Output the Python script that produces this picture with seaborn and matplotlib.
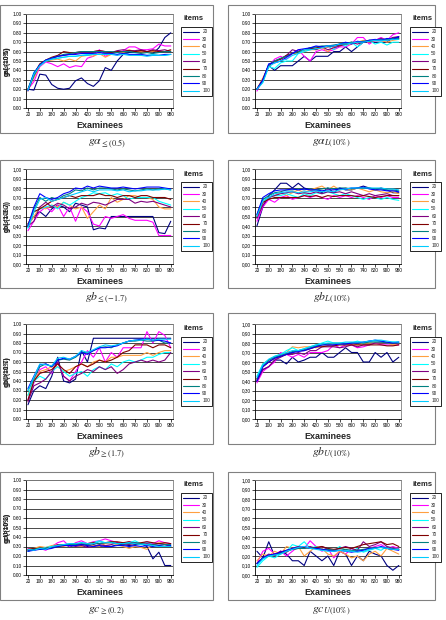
"""
Item parameter recovery curves: eight small Excel-style line panels,
one line per test length (items), plotted against the number of examinees.
"""

import pandas as pd
import matplotlib.pyplot as plt
from matplotlib.lines import Line2D
from matplotlib.patches import Rectangle
from matplotlib.ticker import FixedLocator, FuncFormatter
import seaborn as sns

sns.set_theme(style="white")
plt.rcParams["font.family"] = ["Liberation Sans", "DejaVu Sans"]
plt.rcParams["mathtext.fontset"] = "stix"

# ── Data (one point every 40 examinees) ──────────────────────────────────────
EXAMINEES = [20, 60, 100, 140, 180, 220, 260, 300, 340, 380, 420, 460, 500,
             540, 580, 620, 660, 700, 740, 780, 820, 860, 900, 940, 980]
ITEMS = [20, 30, 40, 50, 60, 70, 80, 90, 100]
X_TICKS = [20, 100, 180, 260, 340, 420, 500, 580, 660, 740, 820, 900, 980]
Y_TICKS = [0.0, 0.1, 0.2, 0.3, 0.4, 0.5, 0.6, 0.7, 0.8, 0.9, 1.0]

GA_LE05 = [
    [.20, .19, .36, .35, .25, .21, .20, .21, .29, .32, .26, .23, .29, .43, .40, .50, .57, .59, .60, .61, .60, .58, .64, .75, .80],
    [.20, .28, .44, .49, .47, .44, .47, .43, .45, .44, .53, .55, .62, .55, .58, .56, .61, .65, .65, .62, .62, .63, .68, .66, .66],
    [.20, .32, .45, .50, .51, .52, .50, .52, .50, .55, .56, .55, .58, .54, .57, .60, .59, .62, .60, .60, .59, .60, .61, .60, .61],
    [.20, .38, .45, .50, .52, .53, .54, .55, .55, .56, .57, .57, .57, .58, .58, .57, .58, .57, .57, .56, .56, .57, .56, .56, .57],
    [.18, .35, .46, .50, .53, .55, .56, .57, .58, .59, .59, .60, .61, .60, .59, .61, .62, .61, .61, .62, .60, .62, .61, .62, .60],
    [.20, .36, .47, .51, .54, .56, .60, .59, .59, .60, .60, .60, .61, .60, .59, .60, .60, .61, .60, .61, .60, .61, .60, .60, .62],
    [.19, .34, .46, .51, .53, .55, .57, .58, .59, .60, .60, .60, .60, .60, .60, .59, .60, .60, .59, .58, .59, .58, .59, .60, .60],
    [.19, .37, .46, .51, .53, .55, .56, .57, .57, .58, .58, .58, .59, .58, .58, .57, .58, .57, .57, .57, .56, .56, .56, .57, .57],
    [.19, .36, .45, .50, .52, .53, .54, .55, .55, .56, .56, .57, .57, .57, .57, .56, .57, .56, .56, .56, .55, .56, .56, .56, .57],
]
GA_L10 = [
    [.20, .30, .45, .40, .45, .45, .45, .50, .55, .50, .55, .55, .55, .60, .60, .65, .60, .65, .70, .70, .70, .70, .70, .75, .75],
    [.18, .30, .45, .52, .55, .52, .58, .62, .55, .50, .60, .62, .60, .62, .65, .65, .68, .75, .75, .68, .72, .75, .72, .78, .80],
    [.20, .32, .45, .50, .52, .55, .58, .58, .60, .62, .62, .64, .60, .65, .66, .68, .68, .70, .72, .70, .72, .72, .70, .72, .73],
    [.20, .28, .44, .42, .48, .50, .50, .58, .60, .62, .63, .65, .66, .62, .68, .66, .70, .65, .70, .72, .68, .70, .67, .70, .70],
    [.20, .30, .46, .50, .52, .56, .62, .60, .62, .64, .62, .65, .62, .64, .66, .68, .70, .68, .70, .72, .72, .74, .72, .75, .76],
    [.20, .30, .45, .50, .52, .56, .58, .60, .62, .63, .64, .65, .65, .66, .67, .68, .69, .70, .70, .71, .72, .72, .73, .73, .74],
    [.20, .29, .46, .50, .53, .55, .58, .60, .62, .64, .65, .66, .66, .67, .68, .69, .70, .70, .71, .72, .72, .73, .73, .74, .74],
    [.20, .30, .47, .48, .50, .54, .58, .62, .63, .64, .66, .65, .66, .66, .68, .70, .68, .71, .70, .72, .73, .72, .74, .73, .76],
    [.20, .27, .44, .48, .50, .52, .56, .58, .62, .62, .63, .64, .66, .66, .68, .68, .69, .70, .70, .71, .72, .72, .72, .73, .73],
]
GB_LE17 = [
    [.42, .50, .55, .50, .58, .62, .60, .55, .64, .62, .60, .36, .38, .37, .50, .50, .50, .50, .50, .50, .50, .50, .33, .32, .45],
    [.35, .45, .55, .60, .55, .62, .50, .60, .45, .60, .55, .42, .40, .50, .48, .50, .52, .48, .46, .46, .46, .44, .30, .30, .30],
    [.40, .50, .60, .58, .62, .60, .65, .62, .58, .60, .48, .55, .62, .58, .70, .65, .68, .72, .72, .70, .70, .68, .60, .58, .58],
    [.38, .55, .58, .60, .62, .58, .65, .62, .66, .70, .72, .75, .74, .75, .72, .74, .72, .68, .70, .70, .70, .70, .66, .64, .62],
    [.40, .45, .60, .65, .60, .64, .62, .58, .60, .64, .62, .65, .64, .62, .65, .68, .68, .68, .64, .66, .65, .66, .64, .62, .60],
    [.42, .55, .58, .62, .66, .68, .70, .72, .70, .72, .72, .72, .74, .72, .72, .70, .72, .72, .70, .72, .72, .70, .70, .70, .68],
    [.40, .58, .70, .66, .70, .68, .72, .74, .78, .77, .80, .78, .80, .80, .79, .78, .79, .78, .77, .78, .79, .78, .79, .79, .78],
    [.40, .60, .74, .70, .68, .70, .74, .76, .80, .79, .82, .80, .82, .81, .80, .80, .81, .80, .79, .80, .81, .81, .81, .80, .79],
    [.38, .55, .68, .70, .66, .68, .70, .72, .74, .76, .78, .76, .78, .78, .78, .77, .78, .76, .77, .77, .78, .78, .78, .79, .78],
]
GB_L10 = [
    [.40, .60, .72, .78, .85, .85, .80, .85, .80, .78, .78, .75, .80, .75, .80, .78, .78, .80, .82, .80, .78, .80, .78, .75, .75],
    [.45, .60, .68, .65, .70, .72, .68, .70, .72, .70, .72, .70, .68, .72, .70, .72, .70, .72, .70, .68, .72, .70, .72, .70, .70],
    [.50, .65, .70, .72, .75, .72, .75, .78, .75, .78, .80, .82, .78, .82, .78, .80, .78, .80, .78, .76, .78, .76, .75, .76, .74],
    [.50, .68, .70, .72, .72, .74, .72, .70, .74, .72, .75, .74, .76, .74, .72, .74, .72, .70, .68, .70, .70, .68, .70, .68, .67],
    [.48, .62, .70, .72, .74, .75, .76, .74, .75, .74, .76, .74, .76, .75, .76, .74, .76, .74, .72, .74, .72, .73, .74, .72, .72],
    [.50, .65, .68, .70, .70, .70, .70, .70, .72, .71, .72, .70, .72, .71, .72, .72, .72, .71, .72, .71, .70, .71, .72, .72, .72],
    [.52, .68, .72, .75, .76, .78, .78, .79, .78, .79, .78, .79, .80, .79, .80, .80, .79, .80, .80, .80, .79, .79, .78, .78, .77],
    [.52, .70, .74, .77, .78, .78, .79, .78, .79, .78, .78, .77, .78, .78, .79, .79, .80, .80, .81, .79, .78, .78, .77, .77, .76],
    [.50, .66, .70, .74, .75, .76, .76, .75, .76, .76, .77, .76, .77, .76, .78, .79, .80, .80, .80, .80, .80, .80, .79, .79, .78],
]
GB_GE17 = [
    [.15, .30, .35, .32, .45, .65, .40, .38, .42, .72, .60, .85, .85, .85, .85, .85, .85, .85, .85, .85, .85, .85, .85, .85, .85],
    [.20, .38, .52, .55, .48, .60, .45, .40, .50, .60, .72, .65, .75, .60, .70, .65, .75, .75, .75, .75, .92, .80, .92, .88, .75],
    [.25, .40, .50, .52, .55, .55, .50, .52, .55, .58, .55, .60, .62, .60, .65, .65, .67, .67, .67, .67, .70, .67, .70, .72, .72],
    [.25, .40, .45, .42, .50, .55, .50, .45, .48, .50, .45, .52, .55, .52, .58, .55, .60, .62, .60, .62, .65, .65, .68, .70, .70],
    [.18, .35, .38, .42, .50, .60, .45, .40, .45, .48, .52, .50, .55, .52, .55, .48, .52, .58, .60, .62, .60, .62, .60, .62, .70],
    [.20, .40, .48, .50, .52, .58, .52, .48, .55, .58, .55, .58, .62, .60, .62, .65, .70, .72, .78, .78, .78, .75, .78, .78, .75],
    [.30, .42, .55, .58, .55, .62, .63, .62, .65, .70, .70, .72, .75, .76, .75, .78, .80, .82, .82, .83, .82, .82, .83, .80, .80],
    [.32, .45, .57, .58, .55, .62, .64, .63, .66, .70, .68, .72, .75, .75, .76, .77, .80, .82, .83, .84, .84, .83, .83, .82, .80],
    [.30, .44, .58, .57, .56, .64, .65, .63, .66, .72, .70, .73, .76, .78, .77, .78, .80, .82, .83, .83, .84, .83, .84, .84, .84],
]
GB_U10 = [
    [.40, .52, .55, .62, .62, .58, .65, .60, .62, .65, .65, .70, .65, .65, .70, .75, .70, .70, .60, .60, .70, .65, .70, .60, .65],
    [.38, .50, .55, .60, .70, .68, .65, .68, .65, .70, .70, .70, .72, .78, .75, .78, .78, .75, .76, .78, .80, .78, .78, .78, .78],
    [.42, .58, .62, .65, .68, .70, .76, .75, .76, .76, .75, .78, .78, .80, .80, .78, .80, .78, .80, .80, .80, .80, .80, .78, .80],
    [.45, .58, .62, .66, .68, .72, .75, .72, .74, .76, .78, .80, .82, .80, .80, .80, .80, .82, .80, .82, .82, .82, .80, .81, .81],
    [.40, .52, .55, .62, .65, .68, .68, .70, .68, .72, .72, .76, .76, .76, .75, .76, .78, .76, .78, .78, .80, .80, .80, .80, .79],
    [.42, .55, .60, .64, .66, .68, .70, .72, .72, .74, .76, .76, .77, .77, .78, .78, .78, .78, .78, .78, .78, .78, .77, .77, .78],
    [.42, .56, .62, .65, .67, .69, .71, .72, .73, .75, .77, .78, .79, .79, .79, .79, .80, .80, .80, .81, .81, .81, .80, .80, .80],
    [.40, .55, .60, .64, .66, .68, .70, .71, .72, .74, .76, .78, .78, .78, .79, .79, .80, .80, .81, .82, .83, .82, .81, .80, .81],
    [.44, .57, .63, .66, .68, .70, .72, .72, .74, .76, .78, .79, .80, .80, .80, .81, .81, .81, .81, .82, .83, .83, .82, .81, .81],
]
GC_GE02 = [
    [.25, .27, .28, .27, .30, .31, .32, .30, .31, .32, .30, .32, .30, .31, .30, .32, .32, .31, .32, .33, .30, .17, .24, .10, .10],
    [.28, .26, .28, .26, .30, .34, .36, .30, .34, .36, .33, .35, .36, .38, .36, .34, .33, .35, .34, .33, .35, .33, .36, .34, .33],
    [.27, .28, .30, .29, .31, .32, .30, .32, .31, .30, .32, .31, .30, .33, .34, .32, .30, .28, .30, .29, .27, .32, .34, .33, .30],
    [.25, .28, .27, .29, .30, .31, .32, .33, .32, .34, .33, .34, .36, .34, .35, .33, .34, .34, .36, .33, .34, .32, .33, .32, .31],
    [.26, .27, .27, .28, .29, .32, .31, .32, .30, .31, .29, .30, .32, .31, .32, .34, .33, .32, .34, .32, .33, .32, .33, .32, .30],
    [.27, .28, .27, .28, .29, .30, .31, .32, .33, .32, .33, .34, .33, .34, .35, .35, .34, .35, .33, .34, .35, .34, .33, .34, .33],
    [.26, .27, .28, .28, .29, .31, .32, .32, .32, .33, .32, .33, .33, .34, .34, .33, .33, .33, .34, .33, .32, .32, .31, .32, .32],
    [.25, .26, .27, .27, .28, .30, .31, .31, .31, .32, .31, .30, .31, .30, .30, .31, .31, .30, .31, .30, .31, .30, .31, .30, .31],
    [.27, .26, .28, .27, .30, .31, .32, .33, .33, .34, .33, .33, .35, .34, .34, .33, .33, .34, .33, .32, .32, .31, .30, .30, .30],
]
GC_U10 = [
    [.25, .18, .35, .20, .25, .22, .15, .15, .10, .25, .20, .15, .20, .10, .25, .22, .10, .20, .15, .25, .22, .20, .10, .05, .10],
    [.12, .25, .28, .22, .25, .20, .25, .30, .28, .36, .30, .25, .28, .18, .25, .22, .28, .25, .26, .28, .30, .32, .28, .30, .28],
    [.15, .22, .20, .25, .22, .30, .28, .30, .20, .25, .30, .28, .22, .20, .25, .22, .18, .20, .15, .22, .25, .20, .28, .25, .22],
    [.08, .15, .20, .18, .22, .25, .32, .30, .35, .28, .30, .26, .28, .25, .30, .26, .25, .28, .24, .26, .28, .26, .30, .28, .27],
    [.12, .18, .22, .20, .25, .24, .28, .30, .28, .30, .28, .30, .27, .26, .28, .30, .28, .26, .35, .30, .32, .35, .30, .28, .27],
    [.12, .18, .20, .22, .24, .26, .27, .28, .29, .28, .29, .30, .28, .27, .28, .29, .28, .30, .32, .33, .34, .35, .32, .33, .30],
    [.12, .18, .20, .21, .23, .25, .27, .28, .28, .29, .28, .27, .27, .26, .26, .27, .26, .26, .27, .28, .29, .29, .28, .27, .27],
    [.12, .18, .21, .22, .24, .26, .28, .29, .30, .28, .28, .27, .26, .25, .26, .25, .24, .25, .26, .28, .28, .30, .28, .27, .26],
    [.10, .17, .20, .21, .22, .25, .27, .29, .30, .28, .27, .26, .25, .25, .26, .25, .25, .24, .25, .27, .28, .29, .28, .27, .27],
]

# Excel 2003 style series colours
COLORS = ["#000080", "#FF00FF", "#FFA040", "#00FFFF", "#800080",
          "#800000", "#008080", "#0000FF", "#00CCFF"]

# (data, y label, caption, decimal separator)
PANELS = [
    (GA_LE05, "ga(<=0.5)", r"$g\alpha_{\leq(0.5)}$", "."),
    (GA_L10, "gaL(10%)", r"$g\alpha_{L(10\%)}$", "."),
    (GB_LE17, "gb(<=-1.7)", r"$gb_{\leq(-1.7)}$", ","),
    (GB_L10, "gbL(10%)", r"$gb_{L(10\%)}$", ","),
    (GB_GE17, "gb(>=1.7)", r"$gb_{\geq(1.7)}$", "."),
    (GB_U10, "gbU(10%)", r"$gb_{U(10\%)}$", ","),
    (GC_GE02, "gc(>=0.2)", r"$gc_{\geq(0.2)}$", "."),
    (GC_U10, "gcU(10%)", r"$gc_{U(10\%)}$", ","),
]

# ── Layout in pixels (446 x 620 canvas) ─────────────────────────────────────
W, H = 446, 620
BOX_X = [(0, 213), (228, 435)]
PLOT_X = [(26, 173), (255, 401)]
LEG_X = [181, 410]
BOX_Y = [(5, 133), (160, 288), (313, 444), (472, 600)]
PLOT_Y = [(14, 108), (169, 264), (324, 419), (480, 575)]
CAP_Y = [143, 298, 453, 611]

fig = plt.figure(figsize=(W / 100, H / 100), dpi=100)
fig.patch.set_facecolor("white")
palette = dict(zip(ITEMS, COLORS))

for i, (values, ylab, caption, sep) in enumerate(PANELS):
    row, col = divmod(i, 2)
    bx0, bx1 = BOX_X[col]
    by0, by1 = BOX_Y[row]
    px0, px1 = PLOT_X[col]
    py0, py1 = PLOT_Y[row]

    # outer chart frame
    fig.patches.append(Rectangle((bx0 / W, 1 - by1 / H), (bx1 - bx0) / W, (by1 - by0) / H,
                                 transform=fig.transFigure, fill=False,
                                 edgecolor="#808080", linewidth=0.8))

    ax = fig.add_axes([px0 / W, 1 - py1 / H, (px1 - px0) / W, (py1 - py0) / H])
    long = pd.DataFrame([
        {"examinees": x, "value": v, "items": n}
        for n, series in zip(ITEMS, values)
        for x, v in zip(EXAMINEES, series)
    ])
    sns.lineplot(data=long, x="examinees", y="value", hue="items", palette=palette,
                 estimator=None, linewidth=0.8, legend=False, ax=ax)

    ax.set_xlim(7, 995)
    ax.set_ylim(0, 1)
    ax.xaxis.set_major_locator(FixedLocator(X_TICKS))
    ax.yaxis.set_major_locator(FixedLocator(Y_TICKS))
    ax.yaxis.set_major_formatter(FuncFormatter(lambda v, _, s=sep: f"{v:.2f}".replace(".", s)))
    ax.tick_params(axis="both", labelsize=3.4, length=2, width=0.5, pad=1.2,
                   direction="out", left=True, bottom=True, colors="black")
    ax.yaxis.grid(True, color="#000000", linewidth=0.5)
    ax.set_axisbelow(True)
    for side in ["left", "bottom"]:
        ax.spines[side].set_color("black")
        ax.spines[side].set_linewidth(0.6)
    for side in ["top", "right"]:
        ax.spines[side].set_color("#808080")
        ax.spines[side].set_linewidth(0.6)

    ax.set_xlabel("Examinees", fontsize=6.5, fontweight="bold")
    ax.set_ylabel(ylab, fontsize=4.8, fontweight="bold")
    ax.xaxis.set_label_coords(0.5, -0.14)
    ax.yaxis.set_label_coords((11 - px0) / (px1 - px0), 0.5)

    # legend to the right of the plot area
    handles = [Line2D([0], [0], color=c, linewidth=0.8) for c in COLORS]
    fig.text((LEG_X[col] + 13) / W, 1 - (py0 + 5) / H, "items", fontsize=5.5,
             fontweight="bold", ha="center", va="center")
    fig.legend(handles, [str(n) for n in ITEMS], loc="upper left",
               bbox_to_anchor=(LEG_X[col] / W, 1 - (py0 + 13) / H),
               fontsize=3.4, handlelength=3.4, handletextpad=0.6, labelspacing=0.5,
               borderpad=0.5, borderaxespad=0, frameon=True, fancybox=False,
               edgecolor="black", framealpha=1).get_frame().set_linewidth(0.6)

    fig.text((bx0 + bx1) / 2 / W, 1 - CAP_Y[row] / H, caption, fontsize=8.5,
             ha="center", va="center")

plt.savefig("out.png", dpi=100)
